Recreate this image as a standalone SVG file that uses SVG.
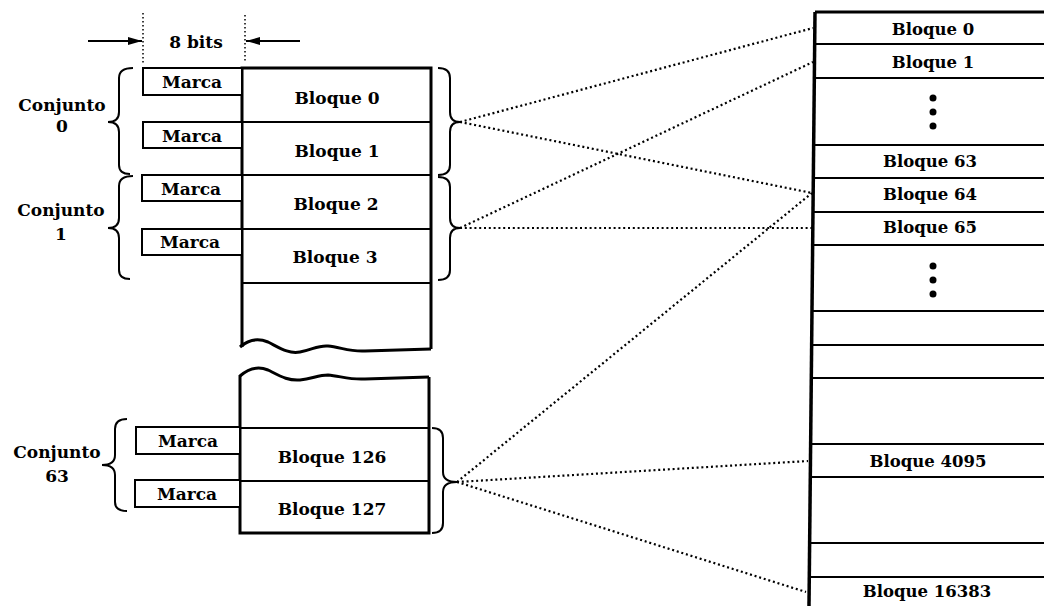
<svg xmlns="http://www.w3.org/2000/svg" width="1044" height="606" viewBox="0 0 1044 606">
<style>
.t{font-family:"DejaVu Serif","Liberation Serif",serif;font-size:17px;font-weight:bold;fill:#000;text-anchor:middle}
.tb{font-family:"DejaVu Serif","Liberation Serif",serif;font-size:16.5px;font-weight:bold;fill:#000;text-anchor:middle}
.thick{fill:none;stroke:#000;stroke-width:3}
.thin{fill:none;stroke:#000;stroke-width:2}
.brace{fill:none;stroke:#000;stroke-width:2}
.dot{fill:none;stroke:#000;stroke-width:2.2;stroke-dasharray:2 2.8}
.vdot{fill:none;stroke:#000;stroke-width:1.5;stroke-dasharray:1.5 2.5}
.mk{fill:#fff;stroke:#000;stroke-width:2}
</style>
<defs>
<marker id="ah" markerWidth="14" markerHeight="8" refX="14" refY="4" orient="auto" markerUnits="userSpaceOnUse">
<path d="M0,0 L14,4 L0,8 Z" fill="#000"/>
</marker>
</defs>
<rect width="1044" height="606" fill="#fff"/>

<g id="width-label">
<line class="vdot" x1="143" y1="13" x2="143" y2="63"/>
<line class="vdot" x1="245" y1="15" x2="245" y2="63"/>
<line class="thin" x1="88" y1="41" x2="142" y2="41" marker-end="url(#ah)"/>
<line class="thin" x1="300" y1="41" x2="246" y2="41" marker-end="url(#ah)"/>
<text class="t" x="196" y="48">8 bits</text>
</g>

<g id="cache-top">
<path class="thick" d="M242,347 L242,68 L431,68 L431,349"/>
<path class="thick" d="M240,347 C248,340 258,338 268,342 C280,348 288,354 300,352 C312,350 318,345 328,346 C340,347 350,352 365,351 L431,349"/>
<line class="thin" x1="242" y1="122" x2="431" y2="122"/>
<line class="thin" x1="242" y1="175" x2="431" y2="175"/>
<line class="thin" x1="242" y1="229" x2="431" y2="229"/>
<line class="thin" x1="242" y1="283" x2="431" y2="283"/>
</g>

<g id="cache-bottom">
<path class="thick" d="M240,376 C248,369 258,366 268,370 C280,376 288,381 300,380 C312,379 318,375 328,375 C340,376 350,380 365,379 L429,377"/>
<path class="thick" d="M240,375 L240,533 L429,533 L429,377"/>
<line class="thin" x1="240" y1="428" x2="429" y2="428"/>
<line class="thin" x1="240" y1="481" x2="429" y2="481"/>
</g>

<g id="marca-0"><rect class="mk" x="143" y="68" width="99" height="27"/><text class="t" x="192" y="88">Marca</text></g>
<g id="marca-1"><rect class="mk" x="143" y="122" width="99" height="26"/><text class="t" x="192" y="142">Marca</text></g>
<g id="marca-2"><rect class="mk" x="142" y="175" width="100" height="26"/><text class="t" x="191" y="195">Marca</text></g>
<g id="marca-3"><rect class="mk" x="142" y="229" width="100" height="26"/><text class="t" x="190" y="248">Marca</text></g>
<g id="marca-126"><rect class="mk" x="136" y="427" width="104" height="27"/><text class="t" x="188" y="447">Marca</text></g>
<g id="marca-127"><rect class="mk" x="135" y="480" width="105" height="27"/><text class="t" x="187" y="500">Marca</text></g>

<g id="bloque-c0"><text class="t" x="337" y="104">Bloque 0</text></g>
<g id="bloque-c1"><text class="t" x="337" y="157">Bloque 1</text></g>
<g id="bloque-c2"><text class="t" x="336" y="210">Bloque 2</text></g>
<g id="bloque-c3"><text class="t" x="335" y="263">Bloque 3</text></g>
<g id="bloque-c126"><text class="t" x="332" y="463">Bloque 126</text></g>
<g id="bloque-c127"><text class="t" x="332" y="515">Bloque 127</text></g>

<g id="conjunto-0">
<path class="brace" d="M133,68 Q119,68 119,78 L119,112 Q119,122 108,122 Q119,122 119,132 L119,165 Q119,174 130,174"/>
<text class="t" x="62" y="111">Conjunto</text>
<text class="t" x="62" y="132">0</text>
</g>
<g id="conjunto-1">
<path class="brace" d="M133,176 Q119,176 119,186 L119,218 Q119,228 108,228 Q119,228 119,238 L119,270 Q119,279 130,279"/>
<text class="t" x="61" y="216">Conjunto</text>
<text class="t" x="61" y="240">1</text>
</g>
<g id="conjunto-63">
<path class="brace" d="M127,419 Q115,419 115,429 L115,455 Q115,465 102,465 Q115,465 115,475 L115,502 Q115,511 127,511"/>
<text class="t" x="57" y="458">Conjunto</text>
<text class="t" x="57" y="482">63</text>
</g>

<g id="brace-r0"><path class="brace" d="M438,68 Q450,68 450,78 L450,112 Q450,122 460,122 Q450,122 450,132 L450,165 Q450,175 438,175"/></g>
<g id="brace-r1"><path class="brace" d="M438,177 Q450,177 450,187 L450,218 Q450,228 460,228 Q450,228 450,238 L450,270 Q450,280 438,280"/></g>
<g id="brace-r63"><path class="brace" d="M432,428 Q443,428 443,438 L443,472 Q443,482 457,482 Q443,482 443,492 L443,523 Q443,533 432,533"/></g>

<g id="main-memory">
<line x1="815" y1="12" x2="809" y2="606" stroke="#000" stroke-width="3.5"/>
<g class="thin">
<line x1="815" y1="12" x2="1044" y2="12" stroke-width="3"/>
<line x1="815" y1="44" x2="1044" y2="44"/>
<line x1="815" y1="78" x2="1044" y2="78"/>
<line x1="814" y1="145" x2="1044" y2="145"/>
<line x1="814" y1="178" x2="1044" y2="178"/>
<line x1="814" y1="212" x2="1044" y2="212"/>
<line x1="813" y1="245" x2="1044" y2="245"/>
<line x1="812" y1="311" x2="1044" y2="311"/>
<line x1="812" y1="345" x2="1044" y2="345"/>
<line x1="812" y1="378" x2="1044" y2="378"/>
<line x1="811" y1="444" x2="1044" y2="444"/>
<line x1="811" y1="477" x2="1044" y2="477"/>
<line x1="810" y1="543" x2="1044" y2="543"/>
<line x1="810" y1="577" x2="1044" y2="577"/>
</g>
<text class="tb" x="933" y="35">Bloque 0</text>
<text class="tb" x="933" y="68">Bloque 1</text>
<circle cx="933" cy="98" r="3.5"/><circle cx="933" cy="112" r="3.5"/><circle cx="933" cy="126" r="3.5"/>
<text class="tb" x="930" y="167">Bloque 63</text>
<text class="tb" x="930" y="200">Bloque 64</text>
<text class="tb" x="930" y="233">Bloque 65</text>
<circle cx="933" cy="266" r="3.5"/><circle cx="933" cy="280" r="3.5"/><circle cx="933" cy="294" r="3.5"/>
<text class="tb" x="928" y="467">Bloque 4095</text>
<text class="tb" x="927" y="597">Bloque 16383</text>
</g>

<g id="connectors">
<line class="dot" x1="460" y1="122" x2="813" y2="28"/>
<line class="dot" x1="460" y1="122" x2="812" y2="193"/>
<line class="dot" x1="460" y1="228" x2="813" y2="62"/>
<line class="dot" x1="460" y1="228" x2="812" y2="228"/>
<line class="dot" x1="457" y1="482" x2="812" y2="193"/>
<line class="dot" x1="457" y1="482" x2="808" y2="461"/>
<line class="dot" x1="457" y1="482" x2="806" y2="592"/>
</g>
</svg>
